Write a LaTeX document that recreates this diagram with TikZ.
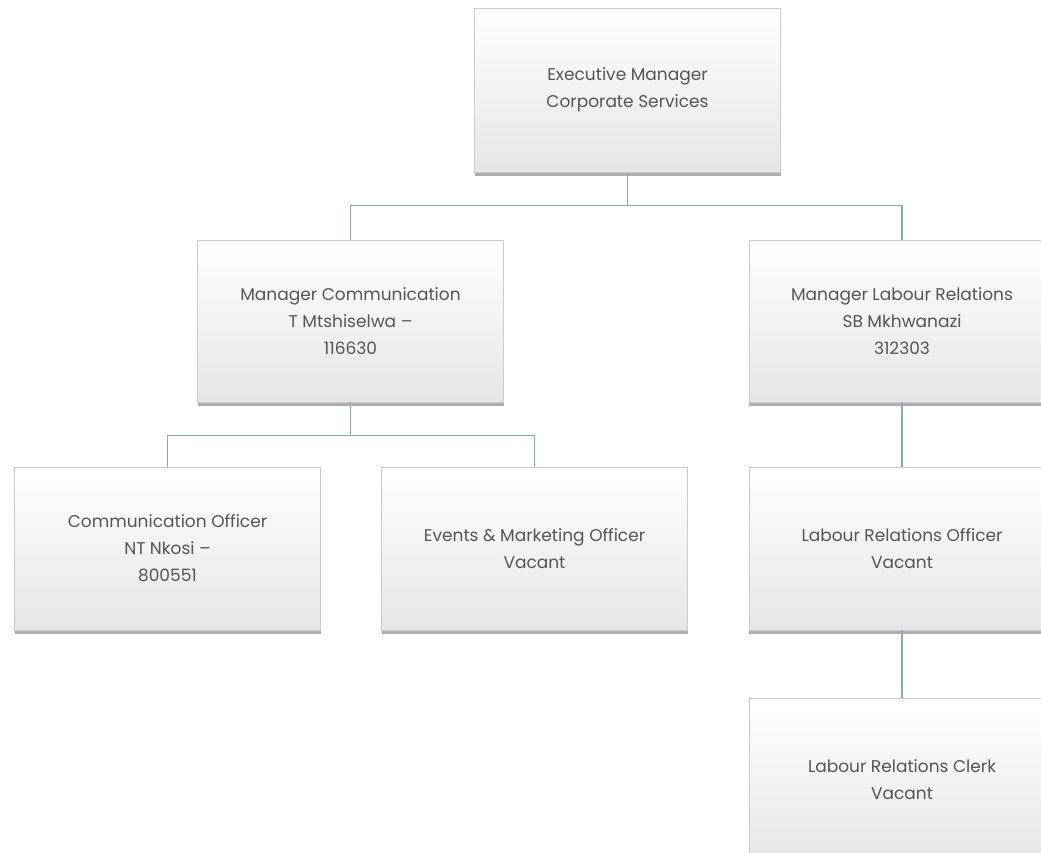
\documentclass[tikz,border=0pt]{standalone}
\usepackage{fontspec}
\setmainfont{Poppins}
\usetikzlibrary{shadows}
\definecolor{posttext}{HTML}{555555}
\definecolor{linkcol}{HTML}{8FA6BD}
\definecolor{postedge}{HTML}{CCCCCC}
\begin{document}
\begin{tikzpicture}[x=1pt,y=-1pt,
  post/.style={rectangle, minimum width=306pt, minimum height=163pt,
    draw=postedge, line width=0.6pt, top color=white, bottom color=gray!20,
    drop shadow={shadow xshift=0pt, shadow yshift=-4pt, fill=gray!70, opacity=0.9},
    text=posttext, font=\fontsize{17}{27}\selectfont, align=center, inner sep=0pt},
  link/.style={draw=linkcol, line width=1.1pt}]
  \useasboundingbox (0,0) rectangle (1041,852);
  \clip (0,0) rectangle (1041,852);

  % org chart posts
  \node[post, minimum height=164pt] (exec) at (627.5,90) {Executive Manager\\Corporate Services};
  \node[post, minimum height=162pt] (mcomm) at (350.5,321) {Manager Communication\\T Mtshiselwa --\\116630};
  \node[post, minimum height=162pt] (mlab) at (902,321) {Manager Labour Relations\\SB Mkhwanazi\\312303};
  \node[post] (cofficer) at (167.5,548.5) {Communication Officer\\NT Nkosi --\\800551};
  \node[post] (events) at (534.5,548.5) {Events \& Marketing Officer\\Vacant};
  \node[post] (lrofficer) at (902,548.5) {Labour Relations Officer\\Vacant};
  \node[post] (clerk) at (902,780) {Labour Relations Clerk\\Vacant};

  % reporting lines
  \draw[link] (exec.south) -- ++(0,33) -| (mcomm.north);
  \draw[link] (exec.south) -- ++(0,33) -| (mlab.north);
  \draw[link] (mcomm.south) -- ++(0,33) -| (cofficer.north);
  \draw[link] (mcomm.south) -- ++(0,33) -| (events.north);
  \draw[link] (mlab.south) -- (lrofficer.north);
  \draw[link] (lrofficer.south) -- (clerk.north);
\end{tikzpicture}
\end{document}
